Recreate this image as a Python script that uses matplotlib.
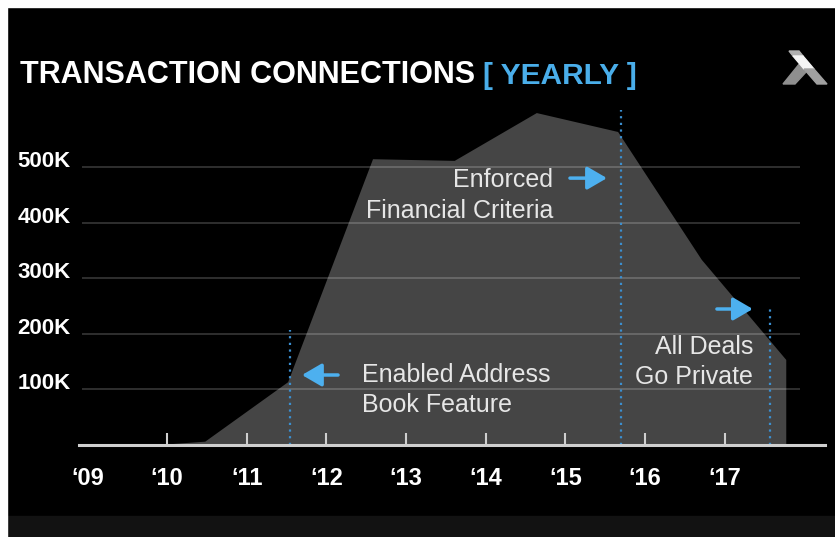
import matplotlib
matplotlib.use("Agg")
import matplotlib.pyplot as plt
from matplotlib.patches import Rectangle, Polygon

plt.rcParams['font.family'] = ['Liberation Sans', 'DejaVu Sans']

# ---- data (values in thousands) ----
years = [2009, 2010, 2010.48, 2011.52, 2012.585, 2013.61, 2014.64, 2015.66, 2016.71, 2017.77, 2017.77]
connections_k = [0, 1, 6, 113, 514, 511, 597, 563, 333, 153, 0]

tick_years = [2009, 2010, 2011, 2012, 2013, 2014, 2015, 2016, 2017]
tick_labels = ["\u201809", "\u201810", "\u201811", "\u201812", "\u201813",
               "\u201814", "\u201815", "\u201816", "\u201817"]
ytick_values = [100, 200, 300, 400, 500]
ytick_labels = ["100K", "200K", "300K", "400K", "500K"]

event_years = [2011.543, 2015.696, 2017.566]
event_tops = [206.8, 602.5, 244.6]
event_texts = ["Enabled Address\nBook Feature", "Enforced\nFinancial Criteria", "All Deals\nGo Private"]
event_text_pos = [(2012.447, 99.0), (2014.843, 449), (2017.353, 149.5)]
event_text_ha = ["left", "right", "right"]
arrow_tails = [(2012.146, 125.9), (2015.056, 480), (2016.90, 244.6)]
arrow_tips = [(2011.694, 125.9), (2015.52, 480), (2017.35, 244.6)]

W, H = 835, 537
fig = plt.figure(figsize=(W / 100, H / 100), dpi=100, facecolor="black")

# background / frame (pixel coordinates)
bg = fig.add_axes([0, 0, 1, 1], zorder=-1)
bg.set_xlim(0, W)
bg.set_ylim(H, 0)
bg.axis("off")
bg.set_facecolor("black")
bg.add_patch(Rectangle((0, 0), W, H, color="black"))
bg.add_patch(Rectangle((7, 516), W, 21, color="#121212"))
bg.add_patch(Rectangle((0, 0), W, 7, color="white"))
bg.add_patch(Rectangle((0, 0), 7, H, color="white"))
# logo
bg.add_patch(Polygon([(800, 63), (807, 71), (795, 84), (783, 84)], color="#8f8f8f"))
bg.add_patch(Polygon([(789, 51), (799, 51), (803, 56), (793, 56)], color="#b0b0b0"))
bg.add_patch(Polygon([(793, 56), (803, 56), (814, 69), (804, 69)], color="#f4f4f4"))
bg.add_patch(Polygon([(804, 69), (814, 69), (827, 84), (817, 84)], color="#a0a0a0"))

# main axes
x0px, x1px, ytop, ybase = 79, 825, 100, 445
ax = fig.add_axes([x0px / W, (H - ybase) / H, (x1px - x0px) / W, (ybase - ytop) / H])
ax.set_facecolor("none")
ax.set_axisbelow(False)
px_per_year = 79.7
px_per_100k = 55.6
ax.set_xlim(2010 - (167 - x0px) / px_per_year, 2010 + (x1px - 167) / px_per_year)
ax.set_ylim(0, (ybase - ytop) / px_per_100k * 100)

ax.fill(years, connections_k, color="#454545", lw=0, zorder=2)

gx0 = 2010 - (167 - 82) / px_per_year
gx1 = 2010 + (800 - 167) / px_per_year
ax.hlines(ytick_values, gx0, gx1, colors="white", alpha=0.2, lw=1.3, zorder=3)

for s in ["top", "right", "left"]:
    ax.spines[s].set_visible(False)
ax.spines["bottom"].set_color("#cfcfcf")
ax.spines["bottom"].set_linewidth(2.2)
ax.spines["bottom"].set_zorder(5)

ax.set_xticks(tick_years)
ax.set_xticklabels(tick_labels, fontsize=17, fontweight="bold", color="white")
ax.tick_params(axis="x", direction="in", length=9, width=1.5, color="#cfcfcf", pad=16)
ax.xaxis.get_major_ticks()[0].tick1line.set_visible(False)

ax.set_yticks(ytick_values)
ax.set_yticklabels(ytick_labels, fontsize=16, fontweight="bold", color="white")
ax.tick_params(axis="y", length=0, pad=6)
for lab in ax.get_yticklabels():
    lab.set_verticalalignment("baseline")

ax.vlines(event_years, 0, event_tops, colors="#3b8fd0", linestyles=(0, (1, 2)), lw=1.6, zorder=4)

for tail, tip in zip(arrow_tails, arrow_tips):
    ax.annotate("", xy=tip, xytext=tail,
                arrowprops=dict(arrowstyle="-|>,head_length=0.6,head_width=0.35",
                                color="#4db0ef", lw=2.5, mutation_scale=20,
                                shrinkA=0, shrinkB=0), zorder=6)

for txt, (tx, ty), ha in zip(event_texts, event_text_pos, event_text_ha):
    ax.text(tx, ty, txt, ha=ha, va="center", multialignment=ha, fontsize=18,
            color="#e6e6e6", linespacing=1.35, zorder=6)

# title
t1 = fig.text(20 / W, 1 - 83 / H, "TRANSACTION CONNECTIONS", fontsize=22,
              fontweight="bold", color="white", va="baseline", ha="left")
ax.annotate("[ YEARLY ]", xy=(1, 0), xycoords=t1, xytext=(6, 0), textcoords="offset points",
            fontsize=21.5, fontweight="bold", color="#4aaeea", va="bottom", ha="left",
            annotation_clip=False)

fig.savefig("out.png", dpi=100, facecolor="black")
